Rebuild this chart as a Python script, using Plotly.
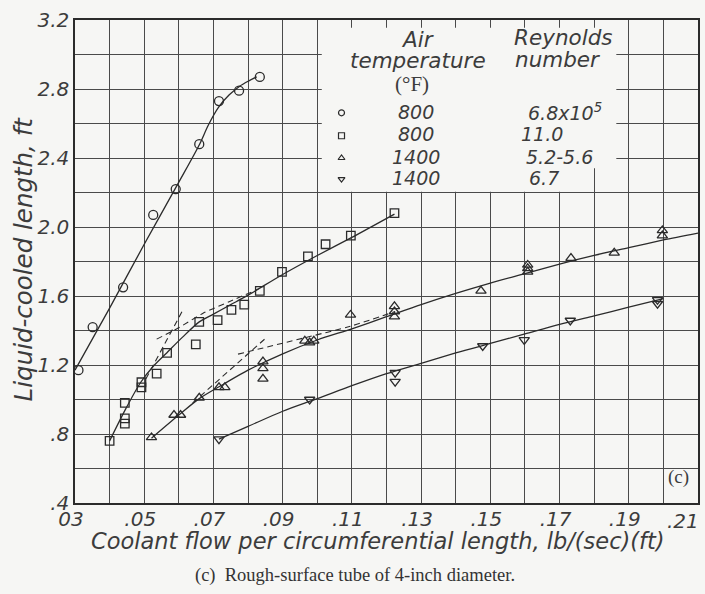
import plotly.graph_objects as go

# ---------------- data ----------------
# 800 F, Re 6.8x10^5 (circles)
circ_x = [0.0310, 0.0351, 0.0439, 0.0526, 0.0591, 0.0659, 0.0716, 0.0774, 0.0834]
circ_y = [1.17, 1.42, 1.65, 2.07, 2.22, 2.48, 2.73, 2.79, 2.87]
circ_fit_x = [0.030, 0.040, 0.050, 0.060, 0.066, 0.0685, 0.0715, 0.0745, 0.0775, 0.0800, 0.0825]
circ_fit_y = [1.17, 1.53, 1.90, 2.26, 2.48, 2.59, 2.695, 2.765, 2.815, 2.845, 2.87]

# 800 F, Re 11.0 (squares)
sq_x = [0.0400, 0.0444, 0.0444, 0.0444, 0.0492, 0.0492, 0.0536, 0.0566, 0.0649, 0.0659,
        0.0712, 0.0752, 0.0789, 0.0834, 0.0898, 0.0973, 0.1024, 0.1097, 0.1223]
sq_y = [0.76, 0.98, 0.89, 0.86, 1.10, 1.07, 1.15, 1.27, 1.32, 1.45,
        1.46, 1.52, 1.55, 1.63, 1.74, 1.83, 1.90, 1.95, 2.08]
sq_fit_x = [0.040, 0.0445, 0.049, 0.0525, 0.0565, 0.061, 0.0659, 0.070, 0.075, 0.080,
            0.090, 0.100, 0.110, 0.1223]
sq_fit_y = [0.76, 0.94, 1.10, 1.19, 1.27, 1.36, 1.45, 1.495, 1.55, 1.605,
            1.725, 1.835, 1.94, 2.075]
sq_dash_a_x = [0.0505, 0.0612]
sq_dash_a_y = [1.12, 1.52]
sq_dash_b_x = [0.0536, 0.0598, 0.0670, 0.0747, 0.0830]
sq_dash_b_y = [1.35, 1.414, 1.50, 1.568, 1.64]

# 1400 F, Re 5.2-5.6 (triangles)
tri_x = [0.0521, 0.0586, 0.0605, 0.0659, 0.0716, 0.0733, 0.0843, 0.0843, 0.0843,
         0.0964, 0.0978, 0.0990, 0.1096, 0.1223, 0.1223, 0.1223, 0.1473,
         0.1608, 0.1608, 0.1608, 0.1733, 0.1858, 0.1997, 0.1997, 0.2106]
tri_y = [0.78, 0.91, 0.91, 1.01, 1.07, 1.07, 1.22, 1.18, 1.12,
         1.34, 1.33, 1.34, 1.49, 1.54, 1.51, 1.48, 1.63,
         1.78, 1.76, 1.74, 1.82, 1.85, 1.98, 1.95, 1.89]
tri_fit_x = [0.0521, 0.060, 0.0659, 0.073, 0.080, 0.090, 0.100, 0.110, 0.120, 0.130,
             0.140, 0.150, 0.160, 0.170, 0.180, 0.190, 0.200, 0.210]
tri_fit_y = [0.776, 0.91, 1.005, 1.09, 1.17, 1.265, 1.345, 1.41, 1.48, 1.55,
             1.615, 1.675, 1.73, 1.785, 1.835, 1.88, 1.925, 1.965]
tri_dash_a_x = [0.0640, 0.0848]
tri_dash_a_y = [0.98, 1.35]
tri_dash_b_x = [0.0771, 0.0978, 0.1093, 0.1225]
tri_dash_b_y = [1.263, 1.365, 1.423, 1.51]

# 1400 F, Re 6.7 (inverted triangles)
inv_x = [0.0716, 0.0978, 0.1225, 0.1225, 0.1478, 0.1598, 0.1731, 0.1983, 0.1983]
inv_y = [0.77, 1.00, 1.156, 1.104, 1.31, 1.346, 1.458, 1.578, 1.555]
inv_fit_x = [0.0716, 0.080, 0.090, 0.100, 0.110, 0.120, 0.130, 0.140, 0.150,
             0.160, 0.170, 0.180, 0.190, 0.200]
inv_fit_y = [0.77, 0.844, 0.932, 1.005, 1.08, 1.15, 1.21, 1.27, 1.325,
             1.38, 1.435, 1.485, 1.535, 1.585]

# axes ticks
x_ticks = [0.03, 0.04, 0.05, 0.06, 0.07, 0.08, 0.09, 0.10, 0.11, 0.12,
           0.13, 0.14, 0.15, 0.16, 0.17, 0.18, 0.19, 0.20, 0.21]
x_ticktext = ["03", " ", ".05", " ", ".07", " ", ".09", " ", ".11", " ",
              ".13", " ", ".15", " ", ".17", " ", ".19", " ", ".21"]
y_ticks = [0.4, 0.6, 0.8, 1.0, 1.2, 1.4, 1.6, 1.8, 2.0, 2.2, 2.4, 2.6, 2.8, 3.0, 3.2]
y_ticktext = [".4", " ", ".8", " ", "1.2", " ", "1.6", " ", "2.0", " ", "2.4", " ", "2.8", " ", "3.2"]

# legend table
leg_temp = ["800", "800", "1400", "1400"]
leg_re = ["6.8x10<sup>5</sup>", "11.0", "5.2-5.6", "6.7"]
leg_symbols = ["circle-open", "square-open", "triangle-up-open", "triangle-down-open"]

# ---------------- styling ----------------
BG = "#f6f6f4"
INK = "#2b2b2b"
GRID = "#4a4a4a"
TXT = "#3c3c3c"
FONT = "DejaVu Sans"

fig = go.Figure()

def fit(x, y, dash=None, w=1.3):
    fig.add_trace(go.Scatter(x=x, y=y, mode="lines", line=dict(color=INK, width=w, shape="spline",
                             smoothing=0.8, dash=dash), hoverinfo="skip", showlegend=False,
                             cliponaxis=False))

fit(circ_fit_x, circ_fit_y)
fit(sq_fit_x, sq_fit_y)
fit(tri_fit_x, tri_fit_y)
fit(inv_fit_x, inv_fit_y)
for dx, dy in [(sq_dash_a_x, sq_dash_a_y), (sq_dash_b_x, sq_dash_b_y),
               (tri_dash_a_x, tri_dash_a_y), (tri_dash_b_x, tri_dash_b_y)]:
    fit(dx, dy, dash="6px,4px", w=1.1)

def pts(x, y, sym, size):
    fig.add_trace(go.Scatter(x=x, y=y, mode="markers",
                             marker=dict(symbol=sym, size=size, color=INK,
                                         line=dict(color=INK, width=1.3)),
                             showlegend=False, cliponaxis=False))

pts(circ_x, circ_y, "circle-open", 9)
pts(sq_x, sq_y, "square-open", 8.5)
pts(tri_x, tri_y, "triangle-up-open", 9)
pts(inv_x, inv_y, "triangle-down-open", 9)

# legend box (blank area over the grid)
fig.add_shape(type="rect", xref="x", yref="y", x0=0.1013, x1=0.1864, y0=2.34, y1=3.155,
              fillcolor=BG, line=dict(width=0), layer="between")
fig.add_shape(type="rect", xref="x", yref="y", x0=0.1013, x1=0.178, y0=2.205, y1=2.345,
              fillcolor=BG, line=dict(width=0), layer="between")

def ann(text, x, y, size=19, xanchor="center", family=FONT, style="italic", xref="x", yref="y",
        color=TXT, xshift=0):
    fig.add_annotation(text=text, x=x, y=y, xref=xref, yref=yref, showarrow=False,
                       xanchor=xanchor, yanchor="middle", xshift=xshift,
                       font=dict(family=family, size=size, color=color, style=style))

ann("Air", 0.1290, 3.086, size=21.5)
ann("temperature", 0.1290, 2.964, size=21.5)
ann("(°F)", 0.1275, 2.83, family="Liberation Serif", style="normal", size=21)
ann("Reynolds", 0.1564, 3.097, xanchor="left", size=21.5)
ann("number", 0.1566, 2.97, xanchor="left", size=21.5)
row_y = [2.668, 2.540, 2.408, 2.285]
re_x = [0.1604, 0.1584, 0.1598, 0.1606]
for i in range(4):
    ann(leg_temp[i], 0.1285, row_y[i])
    ann(leg_re[i], re_x[i], row_y[i], xanchor="left")
fig.add_trace(go.Scatter(x=[0.1070] * 4, y=[2.662, 2.529, 2.400, 2.278], mode="markers",
                         marker=dict(symbol=leg_symbols, size=6, color=INK, line=dict(color=INK, width=1.2)),
                         showlegend=False, hoverinfo="skip"))

ann("(c)", 0.2043, 0.55, size=19, family="Liberation Serif", style="normal")

# last x tick label drawn separately so it is not dropped at the page edge
fig.add_annotation(text=x_ticktext[-1], x=x_ticks[-1], y=0, xref="x", yref="paper",
                   showarrow=False, xanchor="right", yanchor="top", xshift=3, yshift=-4,
                   font=dict(family=FONT, size=20, color=TXT, style="italic"))
x_ticktext_axis = x_ticktext[:-1] + [" "]

# axis titles and caption
ann("Coolant flow per circumferential length, lb/(sec)(ft)", 0.487, -0.078, size=22.5,
    xref="paper", yref="paper")
fig.add_annotation(text="Liquid-cooled length, ft", x=-0.083, y=0.505, xref="paper", yref="paper",
                   showarrow=False, textangle=-90, xanchor="center", yanchor="middle",
                   font=dict(family=FONT, size=24.5, color=TXT, style="italic"))
ann("(c)  Rough-surface tube of 4-inch diameter.", 0.449, -0.151, size=18.5,
    family="Liberation Serif", style="normal", xref="paper", yref="paper", color="#333")

axis_common = dict(showgrid=True, gridcolor=GRID, gridwidth=1, zeroline=False,
                   showline=True, linecolor=INK, linewidth=1.5, mirror=True, ticks="",
                   automargin=False,
                   tickfont=dict(family=FONT, size=20, color=TXT, style="italic"))
fig.update_xaxes(range=[0.03, 0.21], tickmode="array", tickvals=x_ticks, ticktext=x_ticktext_axis,
                 ticklabelshift=-4, ticklabelstandoff=-3, **axis_common)
fig.update_yaxes(range=[0.4, 3.2], tickmode="array", tickvals=y_ticks, ticktext=y_ticktext,
                 **axis_common)

fig.update_layout(width=705, height=594, paper_bgcolor=BG, plot_bgcolor=BG,
                  margin=dict(l=75, r=7, t=20, b=91, autoexpand=False), showlegend=False)

fig.write_html("out.html", config={"displayModeBar": False},
               post_script="document.body.style.margin='0';document.body.style.background='%s';" % BG)
